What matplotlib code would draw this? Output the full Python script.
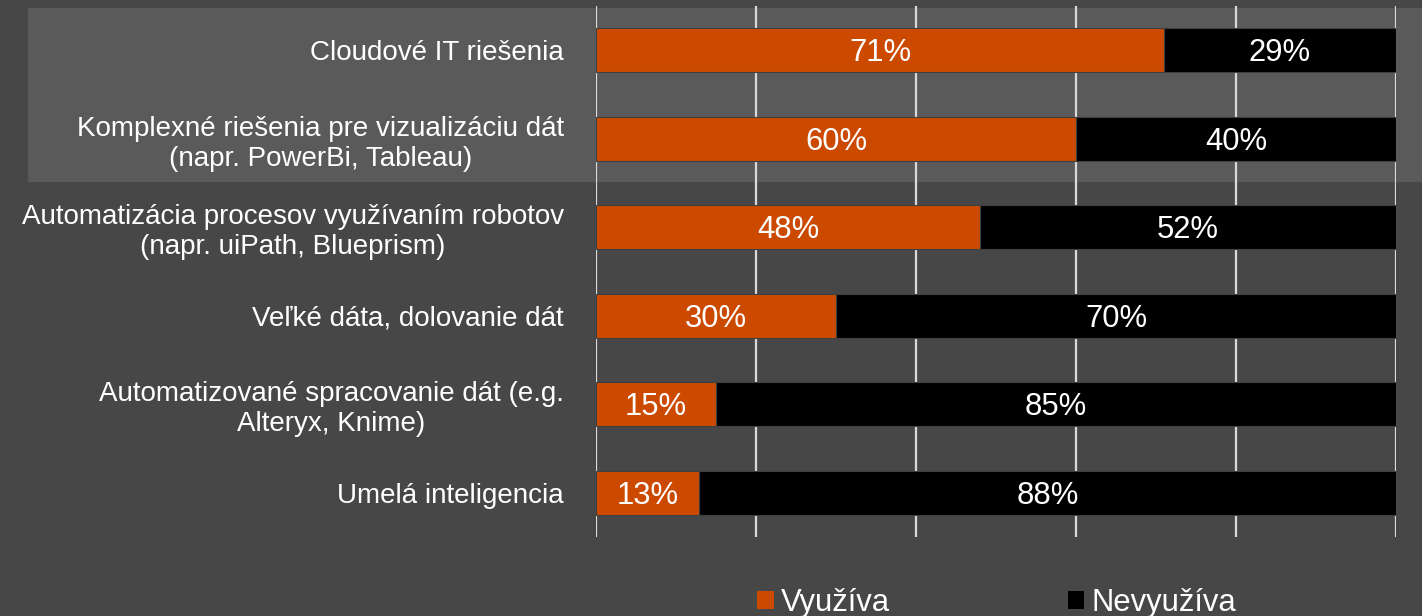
import matplotlib
matplotlib.use("Agg")
import matplotlib.pyplot as plt
from matplotlib.patches import Rectangle, Patch
from matplotlib.transforms import offset_copy

# Survey data: share of firms using / not using each technology (%)
categories = [
    "Cloudové IT riešenia",
    "Komplexné riešenia pre vizualizáciu dát\n(napr. PowerBi, Tableau)",
    "Automatizácia procesov využívaním robotov\n(napr. uiPath, Blueprism)",
    "Veľké dáta, dolovanie dát",
    "Automatizované spracovanie dát (e.g.\nAlteryx, Knime)",
    "Umelá inteligencia",
]
uses = [71, 60, 48, 30, 15, 13]
not_uses = [29, 40, 52, 70, 85, 88]
series_names = ["Využíva", "Nevyužíva"]

BG = "#474747"
HILITE = "#5a5a5a"
ORANGE = "#CC4A00"
BLACK = "#000000"
GRID = "#d9d9d9"
EDGE = "#404040"

plt.rcParams["font.family"] = ["Liberation Sans", "DejaVu Sans"]

W, H = 1422, 616
fig = plt.figure(figsize=(W / 100, H / 100), dpi=100, facecolor=BG)

# lighter band behind the first two rows
fig.patches.append(Rectangle((28 / W, 1 - 182 / H), 1 - 28 / W, (182 - 8) / H,
                             transform=fig.transFigure, facecolor=HILITE,
                             edgecolor="none", zorder=0))

ax_left, ax_right = 596 / W, 1396 / W
ax_top, ax_bot = 1 - 6 / H, 1 - 537 / H
ax = fig.add_axes([ax_left, ax_bot, ax_right - ax_left, ax_top - ax_bot])
ax.set_facecolor("none")
ax.set_zorder(1)

y = list(range(len(categories)))
totals = [u + n for u, n in zip(uses, not_uses)]
u_frac = [u / t for u, t in zip(uses, totals)]
n_frac = [n / t for n, t in zip(not_uses, totals)]

ax.barh(y, u_frac, height=0.5, color=ORANGE, edgecolor=EDGE, linewidth=0.8, zorder=3)
ax.barh(y, n_frac, left=u_frac, height=0.5, color=BLACK, edgecolor=EDGE,
        linewidth=0.8, zorder=3)

# value labels: baseline placed so the digits sit centred on the bar
label_tf = offset_copy(ax.transData, fig=fig, x=0, y=-11, units="dots")
for i in y:
    ax.text(u_frac[i] / 2, i, f"{uses[i]}%", ha="center", va="baseline",
            color="white", fontsize=22.3, zorder=4, transform=label_tf)
    ax.text(u_frac[i] + n_frac[i] / 2, i, f"{not_uses[i]}%", ha="center",
            va="baseline", color="white", fontsize=22.3, zorder=4,
            transform=label_tf)

ax.set_xlim(0, 1)
ax.set_ylim(len(categories) - 0.5, -0.5)
ax.set_xticks([0, 0.2, 0.4, 0.6, 0.8, 1.0])
ax.xaxis.grid(True, color=GRID, linewidth=1.6, zorder=1)
ax.set_axisbelow(True)
ax.tick_params(axis="x", length=0, labelbottom=False)
ax.tick_params(axis="y", length=0, pad=23)
ax.set_yticks(y)
ax.set_yticklabels(categories, fontsize=20, color="white", multialignment="center")
for s in ax.spines.values():
    s.set_visible(False)

handles = [Patch(facecolor=ORANGE, edgecolor="none"),
           Patch(facecolor=BLACK, edgecolor="none")]
leg = fig.legend(handles, series_names, loc="center", ncol=2,
                 bbox_to_anchor=(997 / W, 1 - 603 / H), frameon=False,
                 fontsize=22.3, labelcolor="white", handlelength=0.52,
                 handleheight=0.52, handletextpad=0.24, columnspacing=5.75,
                 borderpad=0, borderaxespad=0)

fig.savefig("out.png", dpi=100, facecolor=BG)
